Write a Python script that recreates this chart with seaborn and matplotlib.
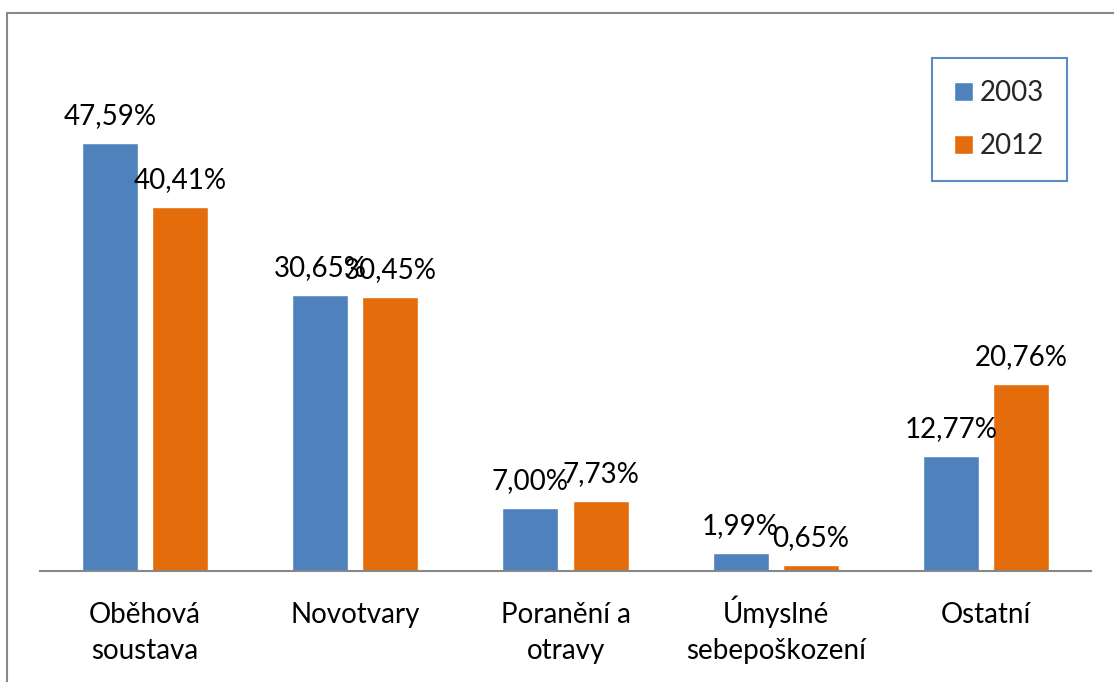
import matplotlib
matplotlib.use("Agg")
import matplotlib.pyplot as plt
from matplotlib.patches import Rectangle
import seaborn as sns
import pandas as pd

categories = ["Oběhová\nsoustava", "Novotvary", "Poranění a\notravy", "Úmyslné\nsebepoškození", "Ostatní"]
years = ["2003", "2012"]
values_2003 = [47.59, 30.65, 7.00, 1.99, 12.77]
values_2012 = [40.41, 30.45, 7.73, 0.65, 20.76]
colors = ["#4F81BD", "#E46C0A"]

df = pd.DataFrame({
    "cat": categories * 2,
    "year": [years[0]] * len(categories) + [years[1]] * len(categories),
    "val": values_2003 + values_2012,
})

sns.set_style("white")
plt.rcParams["font.family"] = ["Lato", "DejaVu Sans"]

W, H = 1114, 682
fig = plt.figure(figsize=(W / 100, H / 100), dpi=100)
ax_left, ax_right, ax_bottom, ax_top = 40, 1091, 571, 31
ax = fig.add_axes([ax_left / W, (H - ax_bottom) / H, (ax_right - ax_left) / W, (ax_bottom - ax_top) / H])

sns.barplot(data=df, x="cat", y="val", hue="year", hue_order=years, order=categories,
            palette=colors, saturation=1, width=0.6667, gap=0.2, ax=ax,
            errorbar=None, legend=True)

ax.set_ylim(0, 60)
ax.set_xlim(-0.5, len(categories) - 0.5)
ax.set_xlabel("")
ax.set_ylabel("")
ax.set_yticks([])
for s in ["top", "left", "right"]:
    ax.spines[s].set_visible(False)
ax.spines["bottom"].set_color("#878787")
ax.spines["bottom"].set_linewidth(1.5)
ax.tick_params(axis="x", length=0, labelbottom=False)

# category labels, one text per line, baselines at fixed pixel offsets
px2pt = 72 / 100
for i, cat in enumerate(categories):
    for j, line in enumerate(cat.split("\n")):
        ax.annotate(line, xy=(i, 0), xycoords=ax.get_xaxis_transform(),
                    xytext=(0, -(52 + 36 * j) * px2pt), textcoords="offset points",
                    ha="center", va="baseline", fontsize=20, color="black",
                    annotation_clip=False)

series = [values_2003, values_2012]
for cont, vals in zip(ax.containers, series):
    labels = [f"{v:.2f}%".replace(".", ",") for v in vals]
    ax.bar_label(cont, labels=labels, padding=10, fontsize=20, color="black")

leg = ax.legend(loc="upper left", bbox_to_anchor=(932 / W, 1 - 58 / H),
                bbox_transform=fig.transFigure, borderaxespad=0, fontsize=20,
                frameon=True, fancybox=False, framealpha=1, borderpad=0.8,
                handlelength=0.68, handleheight=0.68, handletextpad=0.25,
                labelspacing=0.96)
leg.get_frame().set_edgecolor("#5B8BC9")
leg.get_frame().set_linewidth(1.5)

border = Rectangle((7 / W, -0.1), 2, 1 - 13 / H + 0.1, transform=fig.transFigure,
                   fill=False, edgecolor="#898989", linewidth=1.5, clip_on=False)
fig.patches.append(border)

fig.savefig("out.png", dpi=100)
